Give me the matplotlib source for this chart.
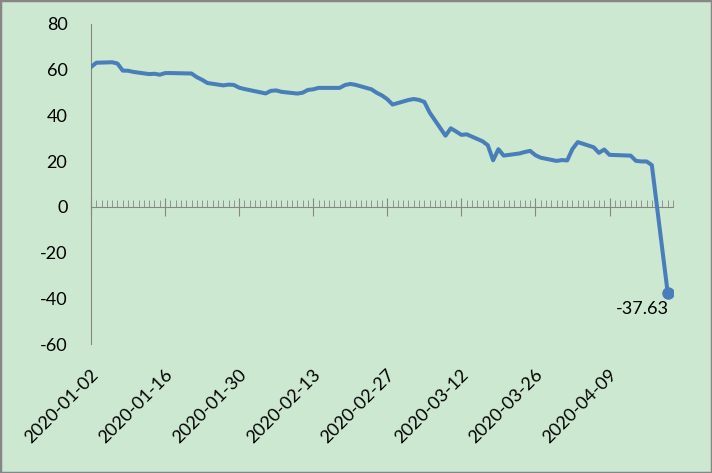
import matplotlib
matplotlib.use("Agg")
from matplotlib import pyplot as plt
import matplotlib.dates as mdates
import matplotlib.transforms as mtrans
import numpy as np
import pandas as pd

# WTI daily close, 2020-01-02 .. 2020-04-20
dates = ["2020-01-02", "2020-01-03", "2020-01-06", "2020-01-07", "2020-01-08", "2020-01-09",
         "2020-01-10", "2020-01-13", "2020-01-14", "2020-01-15", "2020-01-16", "2020-01-17",
         "2020-01-21", "2020-01-22", "2020-01-23", "2020-01-24", "2020-01-27", "2020-01-28",
         "2020-01-29", "2020-01-30", "2020-01-31", "2020-02-03", "2020-02-04", "2020-02-05",
         "2020-02-06", "2020-02-07", "2020-02-10", "2020-02-11", "2020-02-12", "2020-02-13",
         "2020-02-14", "2020-02-18", "2020-02-19", "2020-02-20", "2020-02-21", "2020-02-24",
         "2020-02-25", "2020-02-26", "2020-02-27", "2020-02-28", "2020-03-02", "2020-03-03",
         "2020-03-04", "2020-03-05", "2020-03-06", "2020-03-09", "2020-03-10", "2020-03-11",
         "2020-03-12", "2020-03-13", "2020-03-16", "2020-03-17", "2020-03-18", "2020-03-19",
         "2020-03-20", "2020-03-23", "2020-03-24", "2020-03-25", "2020-03-26", "2020-03-27",
         "2020-03-30", "2020-03-31", "2020-04-01", "2020-04-02", "2020-04-03", "2020-04-06",
         "2020-04-07", "2020-04-08", "2020-04-09", "2020-04-13", "2020-04-14", "2020-04-15",
         "2020-04-16", "2020-04-17", "2020-04-20"]
prices = [61.18, 63.05, 63.27, 62.70, 59.61, 59.56,
          59.04, 58.08, 58.23, 57.81, 58.52, 58.54,
          58.34, 56.74, 55.59, 54.19, 53.14, 53.48,
          53.33, 52.14, 51.56, 50.11, 49.61, 50.75,
          50.95, 50.32, 49.57, 49.94, 51.17, 51.42,
          52.05, 52.05, 53.29, 53.78, 53.38, 51.43,
          49.90, 48.73, 47.09, 44.76, 46.75, 47.18,
          46.78, 45.90, 41.28, 31.13, 34.36, 32.98,
          31.50, 31.73, 28.70, 26.95, 20.37, 25.22,
          22.43, 23.36, 24.01, 24.49, 22.60, 21.51,
          20.09, 20.48, 20.31, 25.32, 28.34, 26.08,
          23.63, 25.09, 22.76, 22.41, 20.11, 19.87,
          19.87, 18.27, -37.63]
yticks = [-60, -40, -20, 0, 20, 40, 60, 80]

x = pd.to_datetime(dates)
major = pd.date_range("2020-01-02", "2020-04-21", freq="14D")

bg = "#CDE8D0"
blue = "#4A7EBB"
grey = "#868686"
plt.rcParams["font.family"] = ["Lato", "DejaVu Sans"]
plt.rcParams["axes.unicode_minus"] = False

fig = plt.figure(figsize=(7.12, 4.73), dpi=100, facecolor=bg)
ax = fig.add_axes([91 / 712, 1 - 344 / 473, (673 - 91) / 712, (344 - 24) / 473])
ax.set_facecolor(bg)

ax.plot(x, prices, color=blue, lw=2.9, solid_joinstyle="round", zorder=3)
ax.plot(x[-1:], prices[-1:], "o", color=blue, ms=8, zorder=4)
ax.annotate(f"{prices[-1]:.2f}", (x[-1], prices[-1]), xytext=(-25, -16),
            textcoords="offset pixels", ha="center", va="center", fontsize=13)

ax.set_xlim(pd.Timestamp("2020-01-02"), pd.Timestamp("2020-04-21"))
ax.set_ylim(-60, 80)
ax.set_yticks(yticks)
ax.tick_params(axis="y", length=0, pad=17, labelsize=13)

for s in ["top", "right", "bottom"]:
    ax.spines[s].set_visible(False)
ax.spines["left"].set_color(grey)

# date labels at the bottom of the plot area
ax.set_xticks(major)
ax.xaxis.set_major_formatter(mdates.DateFormatter("%Y-%m-%d"))
ax.tick_params(axis="x", length=0, pad=20, labelsize=13)
shift = mtrans.ScaledTranslation(5 / 100, 0, fig.dpi_scale_trans)
for lbl in ax.get_xticklabels():
    lbl.set_rotation(45)
    lbl.set_ha("right")
    lbl.set_va("center")
    lbl.set_rotation_mode("anchor")
    lbl.set_transform(lbl.get_transform() + shift)

# axis line through zero with day ticks
sec = ax.secondary_xaxis(60 / 140)
sec.spines["bottom"].set_color(grey)
sec.set_xticks(major)
sec.xaxis.set_minor_locator(mdates.DayLocator())
sec.tick_params(axis="x", which="major", direction="inout", length=13, color=grey, labelbottom=False)
sec.tick_params(axis="x", which="minor", direction="in", length=5, color=grey)

fig.patches.append(plt.Rectangle((0, 0), 1, 1, transform=fig.transFigure, fill=False,
                                 edgecolor=grey, lw=2.5))
fig.savefig("out.png", dpi=100, facecolor=bg)
